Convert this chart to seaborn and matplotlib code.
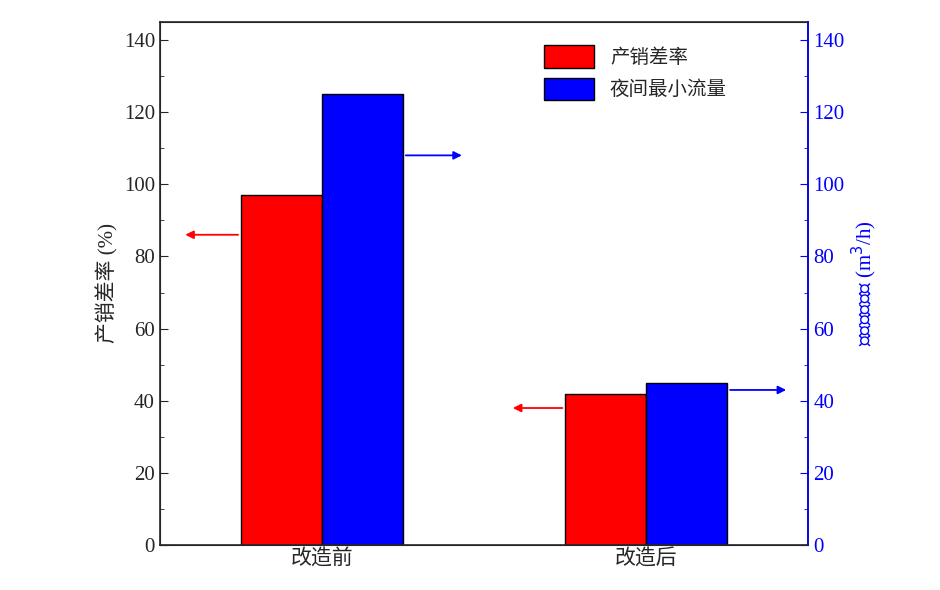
import matplotlib
matplotlib.use("Agg")
import matplotlib.pyplot as plt
import seaborn as sns
import pandas as pd
from matplotlib.ticker import MultipleLocator

categories = ["改造前", "改造后"]
series_names = ["产销差率", "夜间最小流量"]
rate = [97, 42]
flow = [125, 45]

sns.set_style("ticks")
plt.rcParams['font.family'] = ['Liberation Serif', 'Noto Sans CJK SC']
plt.rcParams['font.size'] = 15

df = pd.DataFrame({
    "cat": categories * 2,
    "series": [series_names[0]] * 2 + [series_names[1]] * 2,
    "val": rate + flow,
})

fig = plt.figure(figsize=(9.4, 5.9), dpi=100)
ax = fig.add_axes([0.170, 0.076, 0.690, 0.887])
sns.barplot(data=df, x="cat", y="val", hue="series", palette=["#ff0000", "#0000ff"],
            width=0.5, edgecolor="black", linewidth=1, saturation=1, ax=ax)
ax.set_xlim(-0.5, 1.5)
ax.set_ylim(0, 145)
ax.set_xlabel("")
ax.set_ylabel("产销差率 (%)", fontsize=15)
ax.yaxis.set_major_locator(MultipleLocator(20))
ax.yaxis.set_minor_locator(MultipleLocator(10))
ax.tick_params(axis="y", which="both", direction="in", right=False)
ax.tick_params(axis="y", which="major", length=6)
ax.tick_params(axis="y", which="minor", length=3)
ax.tick_params(axis="x", direction="in", length=6)
for s in ax.spines.values():
    s.set_linewidth(1.2)

ax2 = ax.twinx()
ax2.set_ylim(0, 145)
ax2.yaxis.set_major_locator(MultipleLocator(20))
ax2.yaxis.set_minor_locator(MultipleLocator(10))
ax2.tick_params(axis="y", which="both", direction="in", colors="#0000ff")
ax2.tick_params(axis="y", which="major", length=6)
ax2.tick_params(axis="y", which="minor", length=3)
ax2.spines["right"].set_color("#0000ff")
ax2.spines["right"].set_linewidth(1.2)
ax2.set_ylabel("夜间最小流量 (m$^3$/h)", color="#0000ff", fontsize=15)

arrows = [(-0.25, 86, -0.43, "#ff0000"), (0.25, 108, 0.44, "#0000ff"),
          (0.75, 38, 0.58, "#ff0000"), (1.25, 43, 1.44, "#0000ff")]
for x0, y, x1, c in arrows:
    ax.annotate("", xy=(x1, y), xytext=(x0, y),
                arrowprops=dict(arrowstyle="-|>", color=c, lw=1.3, mutation_scale=12))

leg = ax.legend(loc="upper left", bbox_to_anchor=(0.58, 0.97), frameon=False,
                handlelength=2.6, handleheight=1.4, fontsize=14, borderaxespad=0)
leg.set_title(None)
for t in leg.get_texts():
    t.set_family(['Noto Sans CJK SC'])
fig.savefig("out.png", dpi=100)
